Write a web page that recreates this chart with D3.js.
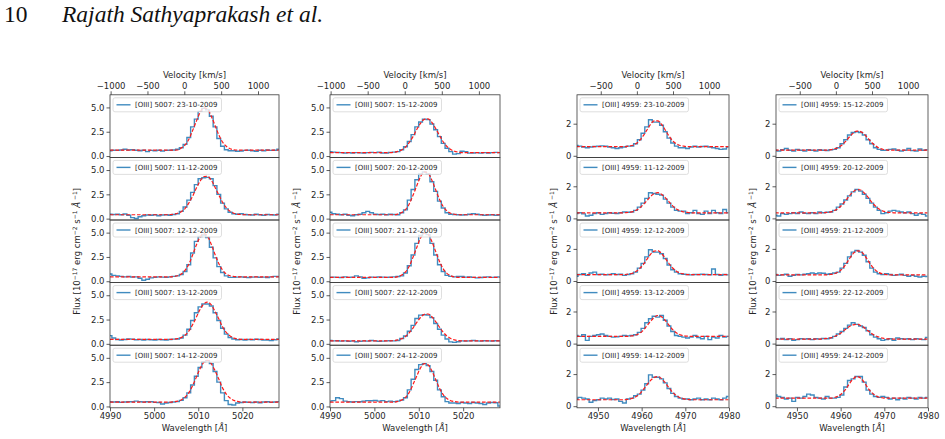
<!DOCTYPE html>
<html>
<head>
<meta charset="utf-8">
<script src="https://cdn.jsdelivr.net/npm/d3@7"></script>
<style>
  body { margin: 0; background: #fff; }
  svg { display: block; }
</style>
</head>
<body>
<div id="chart"></div>
<script>
// observation dates, one per panel row
const datesLeft = ["23-10-2009", "11-12-2009", "12-12-2009", "13-12-2009", "14-12-2009"];
const datesRight = ["15-12-2009", "20-12-2009", "21-12-2009", "22-12-2009", "24-12-2009"];

// wavelength sampling of the spectra (bin centres)
const start5007 = 4990.0;
const start4959 = 4945.0;
const binStep = 0.85;

// [OIII] 5007 flux, first column
const flux5007a = [
  [0.55,0.6,0.58,0.62,0.7,0.62,0.66,0.6,0.55,0.6,0.45,0.58,0.55,0.6,0.52,0.58,0.6,0.62,0.7,
   0.85,1.2,1.9,3.0,3.8,4.6,4.9,4.75,4.1,3.0,1.8,1.0,0.65,0.55,
   0.55,0.5,0.52,0.58,0.6,0.55,0.5,0.6,0.55,0.62,0.58,0.6,0.7],
  [0.45,0.42,0.45,0.4,0.48,0.35,0.1,0.02,0.2,0.3,0.38,0.35,0.4,0.3,0.38,0.4,0.35,0.42,
   0.5,0.75,1.2,1.9,2.7,3.5,4.1,4.2,4.25,4.1,3.4,2.5,1.6,1.0,0.65,0.5,
   0.45,0.5,0.42,0.4,0.38,0.45,0.4,0.35,0.42,0.4,0.38,0.45],
  [0.75,0.6,0.55,0.5,0.45,0.5,0.42,0.45,0.3,0.1,0.2,0.35,0.4,0.45,0.42,0.4,0.45,0.5,0.55,
   0.7,1.0,1.7,2.9,4.1,4.6,4.75,4.5,3.5,2.4,1.5,0.9,0.55,0.4,
   0.4,0.42,0.45,0.4,0.38,0.42,0.45,0.4,0.42,0.38,0.45,0.5,0.48],
  [0.85,0.6,0.45,0.4,0.45,0.5,0.48,0.42,0.45,0.4,0.45,0.42,0.38,0.45,0.42,0.4,0.45,0.48,
   0.5,0.6,0.9,1.5,2.4,3.2,3.8,4.1,4.1,3.9,3.2,2.4,1.6,1.0,0.65,0.5,
   0.42,0.45,0.4,0.45,0.42,0.48,0.45,0.4,0.38,0.35,0.42,0.5],
  [0.5,0.45,0.48,0.42,0.45,0.5,0.48,0.55,0.5,0.45,0.48,0.5,0.42,0.4,0.25,0.35,0.4,0.45,
   0.5,0.62,0.9,1.4,2.2,3.1,4.0,4.6,4.7,4.4,3.6,2.5,1.4,0.6,0.2,0.15,
   0.35,0.4,0.45,0.42,0.4,0.45,0.38,0.45,0.48,0.42,0.45,0.5]
];

// gaussian fit, first column
const fit5007a = [
  [0.6,0.6,0.6,0.6,0.6,0.6, 0.6,0.6,0.6,0.6,0.6,0.6, 0.6,0.6,0.6,0.6,0.6,0.6, 0.62,
   0.83,1.13,1.7,2.6,3.55,4.47,4.96,4.82,4.1,3.15,2.18,1.44,1.0,0.75,0.65,
   0.6,0.6,0.6,0.6,0.6,0.6, 0.6,0.6,0.6,0.6,0.6,0.6],
  [0.4,0.4,0.4,0.4,0.4,0.4, 0.4,0.4,0.4,0.4,0.4,0.4, 0.4,0.4,0.4,0.4, 0.42,0.45,
   0.55,0.72,1.04,1.6,2.28,3.12,3.84,4.32,4.36,3.96,3.24,2.44,1.68,1.12,0.76,0.56,
   0.46,0.42, 0.4,0.4,0.4,0.4,0.4, 0.4,0.4,0.4,0.4,0.4],
  [0.45,0.45,0.45,0.45,0.45,0.45, 0.45,0.45,0.45,0.45,0.45,0.45, 0.45,0.45,0.45,0.45,0.45, 0.49,0.56,
   0.74,1.12,1.74,2.68,3.7,4.54,4.9,4.63,3.79,2.76,1.83,1.16,0.76,0.57,
   0.49,0.46, 0.45,0.45,0.45,0.45,0.45, 0.45,0.45,0.45,0.45,0.45,0.45],
  [0.45,0.45,0.45,0.45,0.45,0.45, 0.45,0.45,0.45,0.45,0.45,0.45, 0.45,0.45,0.45,0.45,0.45, 0.48,
   0.53,0.64,0.89,1.3,1.95,2.72,3.53,4.1,4.3,4.0,3.34,2.57,1.76,1.18,0.82,0.6,
   0.51, 0.45,0.45,0.45,0.45,0.45, 0.45,0.45,0.45,0.45,0.45,0.45],
  [0.45,0.45,0.45,0.45,0.45,0.45, 0.45,0.45,0.45,0.45,0.45,0.45, 0.45,0.45,0.45,0.45,0.45, 0.48,
   0.54,0.67,0.94,1.4,2.13,2.99,3.89,4.54,4.75,4.41,3.68,2.82,1.91,1.27,0.86,0.62,
   0.52, 0.45,0.45,0.45,0.45,0.45, 0.45,0.45,0.45,0.45,0.45,0.45]
];

// [OIII] 5007 flux, second column
const flux5007b = [
  [0.45,0.4,0.38,0.35,0.32,0.35,0.3,0.35,0.33,0.3,0.35,0.38,0.35,0.4,0.32,0.3,0.38,0.4,
   0.45,0.65,0.95,1.5,2.2,3.0,3.5,3.8,3.75,3.3,2.7,2.0,1.3,0.8,0.45,0.2,
   0.25,0.5,0.45,0.3,0.32,0.35,0.3,0.35,0.32,0.35,0.38,0.35],
  [0.65,0.5,0.45,0.4,0.45,0.35,0.3,0.4,0.45,0.6,0.75,0.6,0.45,0.42,0.45,0.4,0.45,0.42,0.4,
   0.6,0.9,1.9,3.0,4.0,4.6,4.8,4.6,3.8,2.8,1.8,1.1,0.6,0.45,
   0.42,0.4,0.38,0.4,0.45,0.5,0.45,0.4,0.35,0.38,0.4,0.35,0.38],
  [0.4,0.42,0.4,0.38,0.45,0.4,0.42,0.55,0.45,0.3,0.35,0.42,0.4,0.45,0.42,0.4,0.42,0.45,0.48,
   0.55,0.85,1.6,2.7,3.9,4.7,5.0,4.8,3.9,2.7,1.7,1.0,0.6,0.5,
   0.45,0.5,0.48,0.42,0.45,0.4,0.35,0.38,0.42,0.45,0.4,0.42,0.45],
  [0.35,0.3,0.32,0.28,0.3,0.25,0.3,0.22,0.25,0.3,0.28,0.35,0.3,0.25,0.28,0.3,0.32,0.3,
   0.35,0.55,0.8,1.3,1.9,2.6,2.95,3.0,2.95,2.7,2.1,1.5,0.9,0.5,0.2,0.15,
   0.22,0.3,0.28,0.3,0.35,0.3,0.28,0.32,0.3,0.28,0.32,0.3],
  [0.55,0.6,0.9,0.8,0.55,0.5,0.45,0.5,0.48,0.55,0.6,0.58,0.62,0.55,0.6,0.5,0.55,0.5,0.55,
   0.65,0.9,1.7,2.8,3.8,4.3,4.4,4.2,3.6,2.7,1.7,1.0,0.5,0.35,
   0.35,0.3,0.4,0.35,0.3,0.4,0.35,0.3,0.2,0.35,0.4,0.38,0.05]
];

const fit5007b = [
  [0.35,0.35,0.35,0.35,0.35,0.35, 0.35,0.35,0.35,0.35,0.35,0.35, 0.35,0.35,0.35,0.35,0.35, 0.39,
   0.48,0.63,0.91,1.4,2.0,2.73,3.36,3.78,3.82,3.47,2.84,2.14,1.47,0.98,0.67,0.49,
   0.4, 0.35,0.35,0.35,0.35,0.35, 0.35,0.35,0.35,0.35,0.35,0.35],
  [0.4,0.4,0.4,0.4,0.4,0.4, 0.4,0.4,0.4,0.4,0.4,0.4, 0.4,0.4,0.4,0.4,0.4,0.4, 0.48,
   0.63,0.93,1.51,2.4,3.38,4.32,4.81,4.67,3.96,2.98,2.0,1.25,0.8,0.55,
   0.45, 0.4,0.4,0.4,0.4,0.4,0.4, 0.4,0.4,0.4,0.4,0.4,0.4],
  [0.4,0.4,0.4,0.4,0.4,0.4, 0.4,0.4,0.4,0.4,0.4,0.4, 0.4,0.4,0.4,0.4,0.4,0.4, 0.48,
   0.64,0.95,1.55,2.47,3.48,4.45,4.95,4.82,4.08,3.07,2.06,1.27,0.81,0.56,
   0.45, 0.4,0.4,0.4,0.4,0.4,0.4, 0.4,0.4,0.4,0.4,0.4,0.4],
  [0.3,0.3,0.3,0.3,0.3,0.3, 0.3,0.3,0.3,0.3,0.3,0.3, 0.3,0.3,0.3,0.3,0.3, 0.33,
   0.4,0.52,0.75,1.14,1.62,2.2,2.71,3.04,3.07,2.79,2.29,1.73,1.2,0.8,0.55,0.41,
   0.34, 0.3,0.3,0.3,0.3,0.3, 0.3,0.3,0.3,0.3,0.3,0.3],
  [0.45,0.45,0.45,0.45,0.45,0.45, 0.45,0.45,0.45,0.45,0.45,0.45, 0.45,0.45,0.45,0.45,0.45,0.45, 0.52,
   0.66,0.93,1.45,2.25,3.13,3.97,4.41,4.29,3.65,2.77,1.89,1.21,0.81,0.59,
   0.5, 0.45,0.45,0.45,0.45,0.45,0.45, 0.45,0.45,0.45,0.45,0.45,0.45]
];

// [OIII] 4959 flux, third column
const flux4959a = [
  [0.65,0.6,0.55,0.5,0.55,0.58,0.6,0.62,0.6,0.55,0.5,0.45,0.5,0.55,0.6,
   0.6,0.75,1.0,1.4,1.8,2.25,2.1,2.1,1.9,1.5,1.1,0.8,0.6,0.5,
   0.5,0.45,0.55,0.6,0.55,0.58,0.6,0.55,0.5,0.45,0.4,0.42,0.55],
  [0.3,0.35,0.28,0.15,0.2,0.3,0.35,0.25,0.3,0.35,0.32,0.3,0.35,0.4,0.38,
   0.4,0.5,0.7,0.95,1.25,1.6,1.55,1.5,1.45,1.2,0.95,0.7,0.5,0.45,0.45,
   0.3,0.35,0.5,0.3,0.25,0.45,0.3,0.5,0.35,0.3,0.55,0.35],
  [0.3,0.4,0.45,0.35,0.5,0.55,0.4,0.42,0.38,0.4,0.45,0.4,0.42,0.35,0.4,
   0.45,0.55,0.8,1.1,1.5,1.95,1.8,1.8,1.7,1.4,1.0,0.7,0.55,0.45,
   0.42,0.4,0.38,0.4,0.4,0.42,0.4,0.38,0.75,0.4,0.35,0.4,0.38],
  [0.5,0.45,0.55,0.2,0.45,0.5,0.55,0.6,0.5,0.45,0.4,0.42,0.45,0.5,0.48,0.5,
   0.55,0.7,0.95,1.3,1.55,1.7,1.65,1.75,1.45,1.1,0.75,0.5,0.45,0.4,
   0.35,0.4,0.5,0.38,0.3,0.45,0.25,0.4,0.35,0.5,0.4,0.45],
  [0.45,0.55,0.5,0.45,0.25,0.35,0.4,0.5,0.45,0.5,0.42,0.45,0.3,0.2,0.45,
   0.5,0.65,0.75,1.0,1.4,1.95,1.8,1.8,1.7,1.45,1.1,0.8,0.6,0.5,0.45,
   0.45,0.4,0.45,0.5,0.4,0.45,0.4,0.5,0.45,0.4,0.5,0.6]
];

const fit4959a = [
  [0.57,0.57,0.57,0.57,0.57,0.57, 0.57,0.57,0.57,0.57,0.57,0.57, 0.57,0.57, 0.6,
   0.64,0.73,0.93,1.22,1.58,1.94,2.17,2.17,1.96,1.61,1.24,0.93,0.75,0.64,
   0.6, 0.57,0.57,0.57,0.57,0.57,0.57, 0.57,0.57,0.57,0.57,0.57,0.57],
  [0.35,0.35,0.35,0.35,0.35,0.35, 0.35,0.35,0.35,0.35,0.35,0.35, 0.35,0.35, 0.37,
   0.41,0.49,0.63,0.84,1.09,1.35,1.54,1.6,1.5,1.29,1.04,0.78,0.59,0.47,0.4,
   0.37, 0.35,0.35,0.35,0.35,0.35, 0.35,0.35,0.35,0.35,0.35,0.35],
  [0.4,0.4,0.4,0.4,0.4,0.4, 0.4,0.4,0.4,0.4,0.4,0.4, 0.4,0.4, 0.43,
   0.47,0.57,0.75,1.0,1.33,1.65,1.86,1.89,1.72,1.42,1.09,0.81,0.61,0.49,
   0.44, 0.4,0.4,0.4,0.4,0.4,0.4, 0.4,0.4,0.4,0.4,0.4,0.4],
  [0.45,0.45,0.45,0.45,0.45,0.45, 0.45,0.45,0.45,0.45,0.45,0.45, 0.45,0.45,0.45, 0.48,
   0.53,0.63,0.81,1.09,1.37,1.63,1.75,1.67,1.45,1.15,0.87,0.67,0.55,0.49,
   0.46, 0.45,0.45,0.45,0.45,0.45, 0.45,0.45,0.45,0.45,0.45,0.45],
  [0.4,0.4,0.4,0.4,0.4,0.4, 0.4,0.4,0.4,0.4,0.4,0.4, 0.4,0.4, 0.43,
   0.48,0.58,0.75,1.0,1.3,1.59,1.79,1.85,1.72,1.46,1.15,0.86,0.66,0.53,0.46,
   0.42, 0.4,0.4,0.4,0.4,0.4, 0.4,0.4,0.4,0.4,0.4,0.4]
];

// [OIII] 4959 flux, fourth column
const flux4959b = [
  [0.35,0.3,0.38,0.45,0.35,0.3,0.4,0.35,0.3,0.38,0.35,0.3,0.38,0.35,0.33,0.38,
   0.4,0.5,0.75,1.0,1.3,1.45,1.5,1.45,1.3,1.0,0.75,0.5,0.4,0.35,
   0.35,0.4,0.42,0.35,0.3,0.35,0.45,0.32,0.3,0.42,0.35,0.38],
  [0.2,0.15,0.3,0.25,0.3,0.35,0.3,0.4,0.32,0.3,0.35,0.3,0.4,0.35,0.38,
   0.4,0.5,0.7,0.9,1.15,1.4,1.65,1.8,1.7,1.5,1.25,0.95,0.7,0.5,0.3,0.35,
   0.45,0.5,0.45,0.4,0.35,0.4,0.3,0.2,0.3,0.25,0.15],
  [0.4,0.35,0.38,0.42,0.3,0.35,0.4,0.38,0.42,0.45,0.5,0.45,0.5,0.48,0.42,0.45,
   0.5,0.55,0.8,1.1,1.5,1.8,1.9,1.8,1.6,1.2,0.8,0.55,0.45,0.4,
   0.45,0.4,0.35,0.38,0.42,0.35,0.3,0.35,0.3,0.25,0.3,0.28],
  [0.3,0.28,0.32,0.25,0.3,0.2,0.25,0.3,0.28,0.3,0.25,0.3,0.28,0.32,
   0.3,0.35,0.45,0.6,0.75,0.95,1.15,1.3,1.2,1.1,1.0,0.8,0.55,0.4,0.3,0.2,0.25,
   0.3,0.2,0.35,0.3,0.28,0.3,0.25,0.3,0.28,0.25,0.38],
  [0.7,0.6,0.55,0.45,0.5,0.3,0.55,0.5,0.6,0.75,0.7,0.55,0.5,0.45,0.6,0.5,0.5,
   0.55,0.7,1.2,1.6,1.7,1.85,1.85,1.5,1.0,0.75,0.6,0.55,
   0.6,0.55,0.45,0.5,0.4,0.5,0.45,0.55,0.5,0.45,0.55,0.5,0.55]
];

const fit4959b = [
  [0.35,0.35,0.35,0.35,0.35,0.35, 0.35,0.35,0.35,0.35,0.35,0.35, 0.35,0.35,0.35, 0.38,
   0.43,0.52,0.67,0.9,1.17,1.41,1.54,1.51,1.35,1.09,0.83,0.63,0.48,0.41,
   0.37, 0.35,0.35,0.35,0.35,0.35, 0.35,0.35,0.35,0.35,0.35,0.35],
  [0.35,0.35,0.35,0.35,0.35,0.35, 0.35,0.35,0.35,0.35,0.35,0.35, 0.35,0.35, 0.37,
   0.41,0.49,0.63,0.83,1.1,1.41,1.66,1.79,1.77,1.58,1.32,1.02,0.77,0.58,0.46,0.4,
   0.37, 0.35,0.35,0.35,0.35,0.35, 0.35,0.35,0.35,0.35,0.35],
  [0.38,0.38,0.38,0.38,0.38,0.38, 0.38,0.38,0.38,0.38,0.38,0.38, 0.38,0.38,0.38, 0.41,
   0.46,0.56,0.74,1.03,1.38,1.7,1.88,1.85,1.63,1.28,0.94,0.68,0.52,0.44,
   0.4, 0.38,0.38,0.38,0.38,0.38, 0.38,0.38,0.38,0.38,0.38,0.38],
  [0.28,0.28,0.28,0.28,0.28,0.28, 0.28,0.28,0.28,0.28,0.28,0.28, 0.28, 0.3,
   0.32,0.36,0.44,0.56,0.71,0.9,1.06,1.17,1.2,1.13,0.99,0.8,0.63,0.49,0.4,0.34,0.3,
   0.29, 0.28,0.28,0.28,0.28,0.28, 0.28,0.28,0.28,0.28,0.28],
  [0.5,0.5,0.5,0.5,0.5,0.5, 0.5,0.5,0.5,0.5,0.5,0.5, 0.5,0.5,0.5,0.5, 0.54,
   0.63,0.8,1.05,1.4,1.7,1.85,1.76,1.49,1.13,0.85,0.66,0.56,
   0.52, 0.5,0.5,0.5,0.5,0.5,0.5, 0.5,0.5,0.5,0.5,0.5,0.5]
];

// axis ticks
const xTicks5007 = [4990, 5000, 5010, 5020];
const xTicks4959 = [4950, 4960, 4970, 4980];
const vTicks = [-1000, -500, 0, 500, 1000];
const yTicks5007 = [0, 2.5, 5];
const yTicks4959 = [0, 2];

const cLight = 299792.458;
const W = 945, H = 439;
const panelTop = 94.8, panelH = 62.6;
const fontPlot = "'DejaVu Sans', sans-serif";
const txtColor = "#262626";

const columns = [
  {line: "5007", rest: 5006.84, start: start5007, dates: datesLeft, flux: flux5007a, fit: fit5007a,
   xDomain: [4990, 5028.3], yDomain: [-0.14, 6.3], xTicks: xTicks5007, yTicks: yTicks5007, yFmt: d3.format(".1f"),
   left: 110, width: 169, labelGap: 30},
  {line: "5007", rest: 5006.84, start: start5007, dates: datesRight, flux: flux5007b, fit: fit5007b,
   xDomain: [4990, 5028.3], yDomain: [-0.14, 6.3], xTicks: xTicks5007, yTicks: yTicks5007, yFmt: d3.format(".1f"),
   left: 330, width: 170, labelGap: 30},
  {line: "4959", rest: 4958.91, start: start4959, dates: datesLeft, flux: flux4959a, fit: fit4959a,
   xDomain: [4945.2, 4980], yDomain: [-0.1, 3.8], xTicks: xTicks4959, yTicks: yTicks4959, yFmt: d3.format("d"),
   left: 577, width: 152, labelGap: 20},
  {line: "4959", rest: 4958.91, start: start4959, dates: datesRight, flux: flux4959b, fit: fit4959b,
   xDomain: [4945.2, 4980], yDomain: [-0.1, 3.8], xTicks: xTicks4959, yTicks: yTicks4959, yFmt: d3.format("d"),
   left: 776, width: 152, labelGap: 20}
];

const svg = d3.select("#chart").append("svg")
    .attr("width", W)
    .attr("height", H)
    .style("font-family", fontPlot);

// page header of the paper
svg.append("text")
    .attr("x", 4).attr("y", 22)
    .attr("font-family", "'Liberation Serif', 'Times New Roman', serif")
    .attr("font-size", 23.5)
    .attr("fill", "#111")
    .text("10");
svg.append("text")
    .attr("x", 62).attr("y", 22)
    .attr("font-family", "'Liberation Serif', 'Times New Roman', serif")
    .attr("font-size", 23.5)
    .attr("font-style", "italic")
    .attr("fill", "#111")
    .text("Rajath Sathyaprakash et al.");

function styleAxis(g) {
    g.select(".domain").remove();
    g.selectAll(".tick line").attr("stroke", "#333").attr("stroke-width", 0.8);
    g.selectAll(".tick text")
        .attr("fill", txtColor)
        .attr("font-size", 8.5)
        .attr("font-family", fontPlot);
}

const stepLine = d3.line().curve(d3.curveStep);
const fitLine = d3.line().curve(d3.curveMonotoneX);

columns.forEach(function(col, ci) {
    let x = d3.scaleLinear().domain(col.xDomain).range([col.left, col.left + col.width]);
    let toVel = w => (w - col.rest) / col.rest * cLight;
    let v = d3.scaleLinear().domain(col.xDomain.map(toVel)).range(x.range());
    let nPanels = col.flux.length;

    col.flux.forEach(function(flux, pi) {
        let top = panelTop + pi * panelH;
        let y = d3.scaleLinear().domain(col.yDomain).range([top + panelH, top]);
        let clipId = "clip-" + ci + "-" + pi;

        svg.append("clipPath").attr("id", clipId)
            .append("rect")
            .attr("x", col.left).attr("y", top)
            .attr("width", col.width).attr("height", panelH);

        let g = svg.append("g").attr("clip-path", "url(#" + clipId + ")");

        // observed spectrum (steps)
        let pts = flux.map((f, i) => [x(col.start + i * binStep), y(f)]);
        g.append("path")
            .attr("d", stepLine(pts))
            .attr("fill", "none")
            .attr("stroke", "#1f77b4")
            .attr("stroke-opacity", 0.85)
            .attr("stroke-width", 1.4);

        // gaussian fit
        let fpts = col.fit[pi].map((f, i) => [x(col.start + i * binStep), y(f)]);
        g.append("path")
            .attr("d", fitLine(fpts))
            .attr("fill", "none")
            .attr("stroke", "#ff1a1a")
            .attr("stroke-width", 1.2)
            .attr("stroke-dasharray", "3.6,1.8");

        // frame
        svg.append("rect")
            .attr("x", col.left).attr("y", top)
            .attr("width", col.width).attr("height", panelH)
            .attr("fill", "none")
            .attr("stroke", "#3a3a3a")
            .attr("stroke-width", 0.8);

        // y axis
        svg.append("g")
            .attr("transform", "translate(" + col.left + ",0)")
            .call(d3.axisLeft(y).tickValues(col.yTicks).tickFormat(col.yFmt).tickSize(3.5).tickPadding(2))
            .call(styleAxis);

        // legend
        let lg = svg.append("g").attr("transform", "translate(" + (col.left + 3) + "," + (top + 3) + ")");
        let box = lg.append("rect")
            .attr("height", 14).attr("rx", 2)
            .attr("fill", "#fff").attr("fill-opacity", 0.8)
            .attr("stroke", "#d5d5d5").attr("stroke-width", 0.8);
        lg.append("line")
            .attr("x1", 3.5).attr("x2", 17.5).attr("y1", 7).attr("y2", 7)
            .attr("stroke", "#1f77b4").attr("stroke-opacity", 0.85).attr("stroke-width", 1.4);
        let lt = lg.append("text")
            .attr("x", 22).attr("y", 9.6)
            .attr("font-size", 7)
            .attr("fill", txtColor)
            .text("[OIII] " + col.line + ": " + col.dates[pi]);
        box.attr("width", 22 + lt.node().getComputedTextLength() + 4);

        // velocity axis on top panel
        if (pi === 0) {
            let vt = vTicks.filter(t => t >= v.domain()[0] && t <= v.domain()[1]);
            svg.append("g")
                .attr("transform", "translate(0," + top + ")")
                .call(d3.axisTop(v).tickValues(vt).tickFormat(d3.format("d")).tickSize(3.5).tickPadding(2))
                .call(styleAxis);
            svg.append("text")
                .attr("x", col.left + col.width / 2).attr("y", top - 16.5)
                .attr("text-anchor", "middle")
                .attr("font-size", 8.5)
                .attr("fill", txtColor)
                .text("Velocity [km/s]");
        }

        // wavelength axis on bottom panel
        if (pi === nPanels - 1) {
            svg.append("g")
                .attr("transform", "translate(0," + (top + panelH) + ")")
                .call(d3.axisBottom(x).tickValues(col.xTicks).tickFormat(d3.format("d")).tickSize(3.5).tickPadding(2))
                .call(styleAxis);
            let xl = svg.append("text")
                .attr("x", col.left + col.width / 2).attr("y", top + panelH + 23)
                .attr("text-anchor", "middle")
                .attr("font-size", 8.5)
                .attr("fill", txtColor);
            xl.append("tspan").text("Wavelength [");
            xl.append("tspan").attr("font-style", "italic").text("Å");
            xl.append("tspan").text("]");
        }
    });

    // y label for the column
    let midY = panelTop + nPanels * panelH / 2;
    let lx = col.left - col.labelGap;
    let yl = svg.append("text")
        .attr("transform", "translate(" + lx + "," + midY + ") rotate(-90)")
        .attr("text-anchor", "middle")
        .attr("font-size", 8.5)
        .attr("fill", txtColor);
    yl.append("tspan").text("Flux [10");
    yl.append("tspan").attr("font-size", 6).attr("dy", -3.5).text("−17");
    yl.append("tspan").attr("dy", 3.5).text(" erg cm");
    yl.append("tspan").attr("font-size", 6).attr("dy", -3.5).text("−2");
    yl.append("tspan").attr("dy", 3.5).text(" s");
    yl.append("tspan").attr("font-size", 6).attr("dy", -3.5).text("−1");
    yl.append("tspan").attr("dy", 3.5).text(" ");
    yl.append("tspan").attr("font-style", "italic").text("Å");
    yl.append("tspan").attr("font-size", 6).attr("dy", -3.5).text(" −1");
    yl.append("tspan").attr("dy", 3.5).text("]");
});
</script>
</body>
</html>
